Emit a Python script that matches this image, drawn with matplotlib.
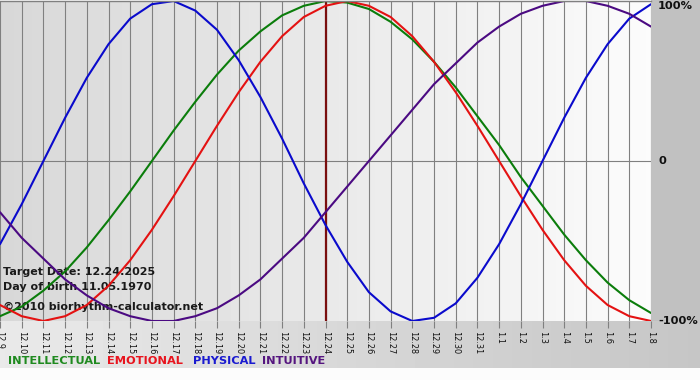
import numpy as np
import matplotlib
matplotlib.use("Agg")
import matplotlib.pyplot as plt

# ---- data ----
dates = ['12.9', '12.10', '12.11', '12.12', '12.13', '12.14', '12.15', '12.16',
         '12.17', '12.18', '12.19', '12.20', '12.21', '12.22', '12.23', '12.24',
         '12.25', '12.26', '12.27', '12.28', '12.29', '12.30', '12.31', '1.1',
         '1.2', '1.3', '1.4', '1.5', '1.6', '1.7', '1.8']

intellectual = [-0.97, -0.91, -0.81, -0.69, -0.54, -0.37, -0.19, 0.00, 0.19, 0.37,
                0.54, 0.69, 0.81, 0.91, 0.97, 1.00, 0.99, 0.95, 0.87, 0.76,
                0.62, 0.46, 0.28, 0.10, -0.10, -0.28, -0.46, -0.62, -0.76, -0.87, -0.95]
emotional = [-0.90, -0.97, -1.00, -0.97, -0.90, -0.78, -0.62, -0.43, -0.22, 0.00,
             0.22, 0.43, 0.62, 0.78, 0.90, 0.97, 1.00, 0.97, 0.90, 0.78,
             0.62, 0.43, 0.22, 0.00, -0.22, -0.43, -0.62, -0.78, -0.90, -0.97, -1.00]
physical = [-0.52, -0.27, 0.00, 0.27, 0.52, 0.73, 0.89, 0.98, 1.00, 0.94,
            0.82, 0.63, 0.40, 0.14, -0.14, -0.40, -0.63, -0.82, -0.94, -1.00,
            -0.98, -0.89, -0.73, -0.52, -0.27, 0.00, 0.27, 0.52, 0.73, 0.89, 0.98]
intuitive = [-0.32, -0.48, -0.61, -0.74, -0.84, -0.92, -0.97, -1.00, -1.00, -0.97,
             -0.92, -0.84, -0.74, -0.61, -0.48, -0.32, -0.16, 0.00, 0.16, 0.32,
             0.48, 0.61, 0.74, 0.84, 0.92, 0.97, 1.00, 1.00, 0.97, 0.92, 0.84]

target_date = '12.24'
y_labels = ['100%', '0', '-100%']
y_label_vals = [1, 0, -1]
legend_names = ['INTELLECTUAL', 'EMOTIONAL', 'PHYSICAL', 'INTUITIVE']
info_lines = ['Target Date: 12.24.2025', 'Day of birth 11.05.1970',
              '\u00a92010 biorhythm-calculator.net']

# ---- styles ----
line_colors = ['#0b7d0b', '#e41212', '#0a0acc', '#4b0a82']
text_colors = ['#1f8a1f', '#e8141e', '#1a1ad0', '#55157f']

W, H = 700, 380
fig = plt.figure(figsize=(W / 100, H / 100), dpi=100)

# background of the whole picture
bg = np.ones((H, W))
xs = np.linspace(0, 1, W)
bg[:, :] = 0.985
bg[:321, 651:] = 0.755
bg[321:368, :] = (0.915 - 0.14 * xs)[None, :]
bax = fig.add_axes([0, 0, 1, 1], zorder=-10)
bax.imshow(bg, cmap='gray', vmin=0, vmax=1, aspect='auto',
           extent=(0, 1, 0, 1), interpolation='bilinear')
bax.set_axis_off()

# main axes
ax = fig.add_axes([0, (H - 321) / H, 651 / W, 320 / H])
ax.set_facecolor('none')
n = len(dates)
x = np.arange(n)
ax.set_xlim(0, n - 1)
ax.set_ylim(-1, 1)

grad = np.linspace(0.845, 0.985, 200)[None, :]
ax.imshow(grad, cmap='gray', vmin=0, vmax=1, aspect='auto',
          extent=(0, n - 1, -1, 1), zorder=0, interpolation='bilinear')

for s in ['left', 'right', 'bottom']:
    ax.spines[s].set_visible(False)
ax.spines['top'].set_color('#808080')
ax.spines['top'].set_linewidth(1.0)

ax.set_xticks(x)
ax.set_xticklabels(dates, rotation=-90, fontsize=5.9, color='#111111')
ax.tick_params(axis='x', length=5, width=0.8, color='#808080', pad=2)
ax.set_yticks([])
ax.grid(axis='x', color='#808080', linewidth=0.8, zorder=0.5)
ax.set_axisbelow(True)
ax.axhline(0, color='#808080', linewidth=0.8, zorder=0.6)

# info text (under the curves)
info_y = [0.153, 0.106, 0.044]
for t, yy in zip(info_lines, info_y):
    ax.text(0.005, yy, t, transform=ax.transAxes, fontsize=8.0,
            fontweight='bold', color='#1a1a1a', va='center', ha='left', zorder=1)

# target date line
ax.axvline(dates.index(target_date), color='#7a0f0f', linewidth=1.6, zorder=1.5)

series = [intellectual, emotional, physical, intuitive]
for vals, c in zip(series, line_colors):
    ax.plot(x, vals, color=c, linewidth=1.5, zorder=2, solid_capstyle='round',
            solid_joinstyle='round')

# right-side percent labels
ytr = ax.get_yaxis_transform()
for lab, v in zip(y_labels, y_label_vals):
    va = 'top' if v == 1 else 'center'
    ax.text(1.011, v, lab, transform=ytr, fontsize=8.2, fontweight='bold',
            color='#111111', ha='left', va=va, clip_on=False)

# legend row
leg_x = [8, 107, 193, 262]
for name, c, lx in zip(legend_names, text_colors, leg_x):
    fig.text(lx / W, 1 - 361 / H, name, fontsize=8.2, fontweight='bold', color=c,
             ha='left', va='center')

fig.savefig('out.png', dpi=100)
